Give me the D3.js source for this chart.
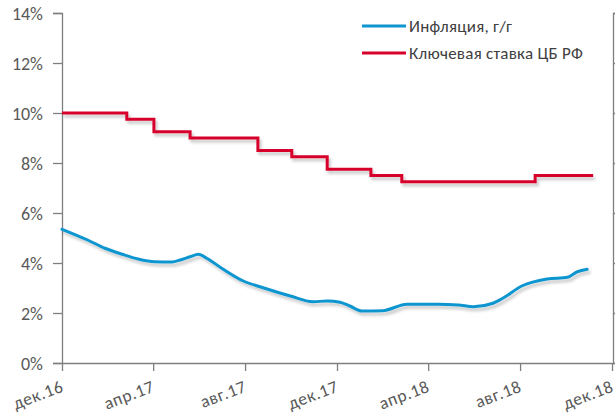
<!DOCTYPE html>
<html>
<head>
<meta charset="utf-8">
<script src="https://cdn.jsdelivr.net/npm/d3@7"></script>
<style>
body { margin: 0; background: #fff; }
text { font-family: "Liberation Sans Narrow", Carlito, "DejaVu Sans Condensed", sans-serif; }
</style>
</head>
<body>
<div id="chart"></div>
<script>
var width = 615, height = 414

// inflation y/y, %
var inflDates = ["2016-12-01", "2017-01-04", "2017-01-27", "2017-02-19", "2017-03-12", "2017-04-03",
  "2017-04-26", "2017-05-07", "2017-05-20", "2017-05-31", "2017-06-11", "2017-07-03", "2017-07-29",
  "2017-08-25", "2017-09-30", "2017-10-30", "2017-11-18", "2017-12-05", "2017-12-18", "2018-01-03",
  "2018-01-30", "2018-03-04", "2018-04-13", "2018-05-11", "2018-05-31", "2018-06-26", "2018-07-09",
  "2018-08-04", "2018-09-06", "2018-10-03", "2018-10-16", "2018-10-29"]
var inflValues = [5.35, 4.92, 4.59, 4.35, 4.16, 4.05, 4.04, 4.12, 4.25, 4.35, 4.19, 3.75, 3.29,
  3.01, 2.68, 2.45, 2.48, 2.43, 2.28, 2.08, 2.09, 2.35, 2.35, 2.32, 2.25, 2.39, 2.59,
  3.09, 3.36, 3.43, 3.65, 3.75]

// key rate, %
var rateDates = ["2016-12-01", "2017-02-25", "2017-04-02", "2017-05-20", "2017-08-18", "2017-10-02",
  "2017-11-18", "2018-01-15", "2018-02-25", "2018-08-21", "2018-11-06"]
var rateValues = [10, 9.75, 9.25, 9, 8.5, 8.25, 7.75, 7.5, 7.25, 7.5, 7.5]

var tickDates = ["2016-12-01", "2017-04-01", "2017-08-01", "2017-12-01", "2018-04-01", "2018-08-01", "2018-12-01"]
var tickLabels = ["дек.16", "апр.17", "авг.17", "дек.17", "апр.18", "авг.18", "дек.18"]
var yTicks = [0, 2, 4, 6, 8, 10, 12, 14]

var seriesNames = ["Инфляция, г/г", "Ключевая ставка ЦБ РФ"]
var seriesColors = ["#1095d0", "#d7002b"]

var parse = d3.timeParse("%Y-%m-%d")

var svg = d3.select("#chart").append("svg").attr("width", width).attr("height", height)

var defs = svg.append("defs")
defs.append("filter").attr("id", "shadow")
    .attr("x", "-5%").attr("y", "-50%").attr("width", "110%").attr("height", "200%")
  .append("feDropShadow")
    .attr("dx", 2).attr("dy", 3).attr("stdDeviation", 1.8)
    .attr("flood-color", "#000").attr("flood-opacity", 0.22)

var x = d3.scaleTime()
    .domain([parse("2016-12-01"), parse("2018-12-01")])
    .range([62, 612])

var y = d3.scaleLinear()
    .domain([0, 14])
    .range([363, 13])

var axisColor = "#7f7f7f"
var labelColor = "#595959"

// left axis
var yAxis = svg.append("g")
    .attr("transform", "translate(62,0)")
    .call(d3.axisLeft(y).tickValues(yTicks).tickSize(9).tickPadding(10).tickFormat(function(d) { return d + "%" }))
yAxis.select(".domain").attr("stroke", axisColor).attr("stroke-width", 1.3)
yAxis.selectAll(".tick line").attr("stroke", axisColor).attr("stroke-width", 1.3)
yAxis.selectAll(".tick text").attr("fill", labelColor).style("font-size", "18px").attr("dy", "0.36em")

// right axis (no labels)
var yAxisR = svg.append("g")
    .attr("transform", "translate(613,0)")
    .call(d3.axisRight(y).tickValues(yTicks).tickSize(9).tickFormat(""))
yAxisR.select(".domain").attr("stroke", axisColor).attr("stroke-width", 1.3)
yAxisR.selectAll(".tick line").attr("stroke", axisColor).attr("stroke-width", 1.3)

// bottom axis
var xAxis = svg.append("g")
    .attr("transform", "translate(0,363)")
    .call(d3.axisBottom(x).tickValues(tickDates.map(parse)).tickSize(8).tickSizeOuter(0)
      .tickFormat(function(d, i) { return tickLabels[i] }))
xAxis.select(".domain").attr("stroke", axisColor).attr("stroke-width", 1.3)
xAxis.selectAll(".tick line").attr("stroke", axisColor).attr("stroke-width", 1.3)
xAxis.selectAll(".tick text")
    .attr("fill", labelColor)
    .style("font-size", "17.5px")
    .style("letter-spacing", "0.6px")
    .attr("text-anchor", "end")
    .attr("y", 0).attr("dy", 0)
    .attr("transform", "translate(2,28) rotate(-21)")

var inflData = inflDates.map(function(d, i) { return {date: parse(d), value: inflValues[i]} })
var rateData = rateDates.map(function(d, i) { return {date: parse(d), value: rateValues[i]} })

var smoothLine = d3.line()
    .curve(d3.curveMonotoneX)
    .x(function(d) { return x(d.date) })
    .y(function(d) { return y(d.value) })

var stepLine = d3.line()
    .curve(d3.curveStepAfter)
    .x(function(d) { return x(d.date) })
    .y(function(d) { return y(d.value) })

svg.append("path")
    .attr("d", stepLine(rateData))
    .attr("fill", "none")
    .attr("stroke", seriesColors[1])
    .attr("stroke-width", 3)
    .attr("filter", "url(#shadow)")

svg.append("path")
    .attr("d", smoothLine(inflData))
    .attr("fill", "none")
    .attr("stroke", seriesColors[0])
    .attr("stroke-width", 3)
    .attr("stroke-linecap", "round")
    .attr("filter", "url(#shadow)")

// legend
var legend = svg.append("g")
seriesNames.forEach(function(name, i) {
  var ly = 26 + i * 27
  legend.append("line")
    .attr("x1", 362).attr("x2", 406)
    .attr("y1", ly).attr("y2", ly)
    .attr("stroke", seriesColors[i])
    .attr("stroke-width", 3)
  legend.append("text")
    .attr("x", 409).attr("y", ly)
    .attr("dy", "0.36em")
    .attr("fill", "#404040")
    .style("font-size", "17px")
    .style("letter-spacing", "0.25px")
    .text(name)
})
</script>
</body>
</html>
